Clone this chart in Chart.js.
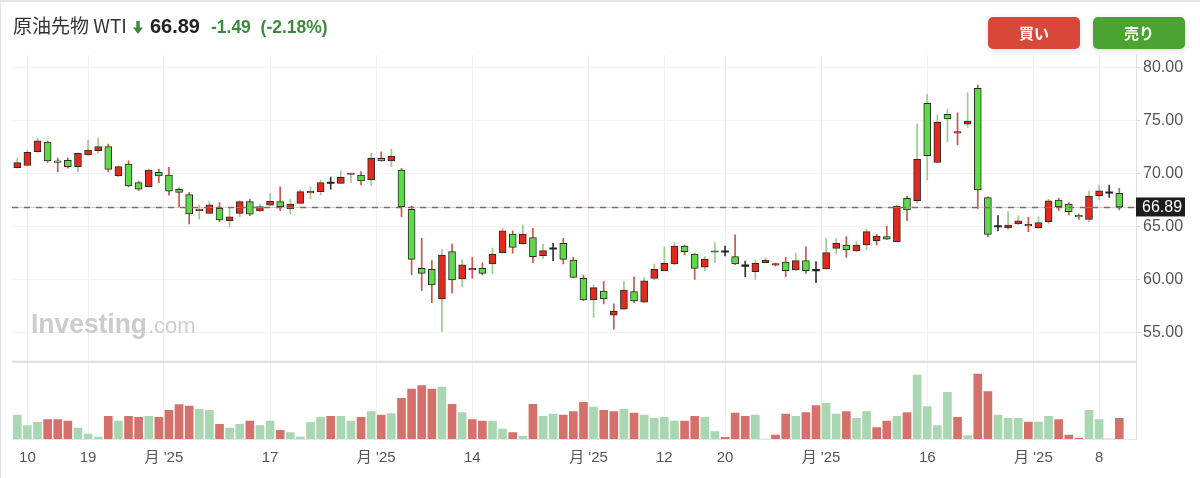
<!DOCTYPE html>
<html>
<head>
<meta charset="utf-8">
<script src="https://cdn.jsdelivr.net/npm/chart.js@4.4.1/dist/chart.umd.min.js"></script>
<style>
  html, body { margin: 0; padding: 0; background: #fff; }
  #wrap { position: relative; width: 1200px; height: 478px; overflow: hidden; font-family: 'Liberation Sans', Arial, sans-serif; }
  #chart { position: absolute; left: 0; top: 0; }
  #frame { position: absolute; left: 0; top: 0; width: 1200px; height: 478px; box-shadow: inset 1px 2px 0 #e4e4e4; pointer-events: none; }
  #head { position: absolute; left: 13px; top: 12px; white-space: nowrap; line-height: 26px; }
  #head .name { font-family: 'Noto Sans CJK JP', sans-serif; font-size: 19px; color: #333; }
  #head svg { display: inline-block; margin-left: 6px; vertical-align: -1px; }
  #head .last { font-size: 20px; font-weight: bold; color: #222; margin-left: 7px; }
  #head .chg { font-size: 17.5px; font-weight: bold; color: #3d8a3d; margin-left: 11px; }
  .btn { position: absolute; top: 17px; width: 92px; height: 32px; border-radius: 5px; color: #fff; font-family: 'Noto Sans CJK JP', sans-serif; font-weight: bold; font-size: 15px; line-height: 32px; text-align: center; box-shadow: 0 2px 6px rgba(0,0,0,0.12); }
  .buy { left: 988px; background: #d9463a; }
  .sell { left: 1093px; background: #4ba334; }
</style>
</head>
<body>
<div id="wrap">
  <canvas id="chart" width="1200" height="478"></canvas>
  <div id="head">
    <span class="name" id="name"></span><svg width="10" height="13" viewBox="0 0 10 13"><path d="M3.3 0h3.4v6.5H10L5 13 0 6.5h3.3z" fill="#3d8a3d"/></svg><span class="last" id="last"></span><span class="chg" id="chg"></span>
  </div>
  <div class="btn buy">買い</div>
  <div class="btn sell">売り</div>
  <div id="frame"></div>
</div>
<script>
const instrument = '原油先物 WTI'
const lastPrice = 66.89
const change = -1.49
const changePct = -2.18

const opens = [
  70.60, 70.80, 72.10, 73.00, 71.15, 71.30, 70.70, 71.80, 72.20, 72.58,
  69.81, 70.94, 69.18, 68.80, 70.16, 69.90, 68.56, 68.05, 66.55, 66.29,
  66.76, 65.60, 66.29, 67.39, 66.51, 67.05, 67.39, 66.70, 67.23, 68.22,
  68.33, 69.10, 69.12, 69.95, 69.90, 69.43, 71.48, 71.23, 70.38, 66.67,
  61.10, 61.00, 58.21, 62.67, 60.09, 60.95, 61.10, 61.51, 62.58, 64.34,
  63.40, 64.00, 62.30, 62.90, 63.46, 61.89, 60.16, 58.11, 58.96, 56.67,
  57.24, 58.90, 57.90, 60.16, 60.88, 61.51, 63.21, 62.45, 61.20, 62.62,
  62.62, 62.20, 61.28, 60.78, 61.63, 61.40, 61.70, 60.94, 61.82, 60.86,
  61.04, 62.99, 63.30, 62.74, 63.30, 63.71, 64.09, 63.62, 67.70, 67.48,
  76.67, 71.10, 75.63, 73.85, 74.69, 78.08, 67.77, 65.00, 64.93, 65.28,
  65.10, 64.93, 65.50, 67.55, 67.17, 66.00, 65.72, 67.92, 68.18, 68.18
]
const highs = [
  71.50, 72.20, 73.40, 73.10, 71.50, 71.50, 72.00, 73.20, 73.40, 72.83,
  70.80, 71.25, 69.34, 70.50, 70.44, 70.63, 68.70, 68.24, 67.10, 67.40,
  67.30, 66.76, 67.50, 67.64, 67.17, 68.17, 68.80, 67.60, 68.50, 68.80,
  69.43, 69.70, 70.31, 70.05, 70.22, 71.95, 72.10, 72.33, 70.54, 66.98,
  63.93, 61.82, 62.90, 63.40, 61.90, 62.14, 61.63, 63.00, 64.87, 64.65,
  65.19, 64.87, 63.40, 63.46, 63.93, 62.14, 60.47, 59.53, 59.84, 57.74,
  59.84, 60.30, 60.22, 61.51, 63.14, 63.52, 63.30, 62.50, 62.20, 63.52,
  63.21, 64.25, 61.79, 61.89, 62.10, 61.60, 62.14, 62.52, 63.14, 61.73,
  63.93, 63.90, 64.09, 63.62, 64.78, 64.30, 65.09, 67.05, 67.92, 74.72,
  77.55, 75.57, 76.10, 75.78, 77.67, 78.40, 67.85, 66.07, 66.45, 66.07,
  65.91, 65.97, 67.60, 67.70, 67.30, 66.23, 68.42, 68.96, 68.96, 68.65
]
const lows = [
  70.55, 70.75, 72.05, 71.10, 70.20, 70.55, 70.20, 71.75, 71.95, 70.20,
  69.75, 68.80, 68.42, 68.75, 69.18, 68.00, 66.90, 65.30, 65.75, 66.25,
  65.50, 65.03, 65.97, 66.07, 66.45, 67.00, 66.54, 66.23, 67.20, 67.64,
  68.02, 68.56, 69.10, 69.18, 68.96, 68.87, 71.20, 70.69, 65.97, 60.47,
  59.00, 57.86, 55.12, 58.75, 59.37, 60.16, 60.47, 60.57, 62.55, 62.52,
  63.37, 61.63, 62.04, 61.82, 61.51, 60.20, 58.05, 56.48, 57.74, 55.35,
  57.20, 57.86, 57.88, 60.00, 60.85, 61.42, 62.36, 60.06, 60.88, 61.63,
  62.26, 61.45, 60.31, 60.06, 61.60, 61.30, 60.31, 60.90, 60.63, 59.75,
  61.00, 62.45, 62.14, 62.70, 62.83, 63.30, 63.80, 63.60, 65.60, 67.24,
  69.43, 71.05, 73.05, 72.74, 74.40, 66.76, 64.09, 64.62, 64.72, 65.25,
  64.56, 64.90, 65.28, 66.54, 66.13, 65.72, 65.50, 67.55, 67.80, 66.60
]
const closes = [
  71.07, 72.05, 73.14, 71.23, 71.10, 70.70, 71.95, 72.26, 72.58, 70.44,
  70.69, 68.87, 68.58, 70.38, 69.81, 68.37, 68.27, 66.23, 66.65, 67.08,
  65.66, 65.97, 67.39, 66.20, 66.92, 67.42, 66.92, 67.17, 68.33, 68.36,
  69.18, 69.10, 69.69, 70.00, 69.34, 71.48, 71.23, 71.70, 66.92, 61.95,
  60.63, 59.53, 62.36, 60.00, 61.42, 61.05, 60.63, 62.45, 64.65, 63.08,
  64.34, 62.20, 62.77, 62.90, 61.95, 60.25, 58.11, 59.28, 58.21, 57.05,
  59.06, 58.02, 59.91, 61.01, 61.57, 63.21, 62.67, 61.10, 61.98, 62.70,
  62.62, 61.51, 61.28, 61.57, 61.89, 61.45, 60.88, 61.82, 60.88, 60.86,
  62.58, 63.46, 62.83, 63.30, 64.56, 64.15, 63.84, 66.98, 66.60, 71.39,
  71.73, 74.88, 75.19, 73.95, 75.00, 68.49, 64.31, 65.00, 65.19, 65.57,
  65.15, 65.41, 67.48, 66.92, 66.45, 65.95, 67.92, 68.42, 68.18, 66.89
]
// volume, thousands of contracts
const volumes = [
  240, 133, 167, 193, 193, 180, 110, 50, 20, 227,
  180, 227, 217, 227, 217, 287, 343, 330, 297, 287,
  147, 110, 147, 180, 133, 180, 87, 63, 20, 167,
  217, 227, 227, 180, 217, 273, 240, 253, 407, 500,
  533, 500, 520, 347, 263, 193, 180, 180, 100, 63,
  27, 347, 227, 250, 240, 273, 367, 320, 287, 273,
  300, 260, 240, 207, 217, 180, 180, 227, 217, 73,
  17, 260, 227, 240, 0, 40, 250, 227, 263, 333,
  357, 250, 273, 207, 273, 113, 180, 227, 263, 640,
  323, 133, 467, 217, 33, 650, 473, 240, 207, 207,
  170, 170, 227, 193, 40, 10, 287, 193, 0, 207
]

const priceTicks = [55, 60, 65, 70, 75, 80]
const xTickPos = [1, 7, 14.5, 25, 35.5, 45, 56.5, 64, 70, 79.5, 90, 100.5, 107]
const xTickLabels = ['10', '19', "月 '25", '17', "月 '25", '14', "月 '25", '12', '20', "月 '25", '16', "月 '25", '8']

document.getElementById('name').textContent = instrument
document.getElementById('last').textContent = lastPrice.toFixed(2)
document.getElementById('chg').textContent = change.toFixed(2) + ' \u00a0(' + changePct.toFixed(2) + '%)'

const FONT = "'Liberation Sans', Arial, 'Noto Sans CJK JP', sans-serif"
const idx = opens.map((_, i) => i)
const isDoji = i => opens[i] === closes[i]
const beatsPrev = i => i === 0 || closes[i] >= closes[i - 1]

const bodyColor = i => isDoji(i) ? '#222' : (closes[i] > opens[i] ? '#e2291c' : '#5cdb47')
const wickColor = i => isDoji(i) ? '#333' : (beatsPrev(i) ? '#97cd8e' : '#c8574c')
const volColor = i => beatsPrev(i) ? '#a9d7b2' : '#d5706b'

const overlay = {
  id: 'overlay',
  beforeDatasetsDraw(chart) {
    const { ctx, chartArea } = chart
    const y = chart.scales.y
    ctx.save()
    ctx.fillStyle = '#cccccc'
    ctx.textBaseline = 'alphabetic'
    ctx.font = 'bold 27px ' + FONT
    const w = ctx.measureText('Investing').width
    const bx = chartArea.left + 19, by = y.bottom - 29
    ctx.translate(bx, by)
    ctx.scale(116 / w, 1)
    ctx.fillText('Investing', 0, 0)
    ctx.setTransform(1, 0, 0, 1, 0, 0)
    ctx.font = '22px ' + FONT
    ctx.fillStyle = '#cfcfcf'
    ctx.fillText('.com', bx + 117, by)
    ctx.restore()
  },
  afterDatasetsDraw(chart) {
    const { ctx, chartArea } = chart
    const y = chart.scales.y
    const py = Math.round(y.getPixelForValue(lastPrice)) + 0.5
    ctx.save()
    ctx.strokeStyle = 'rgba(230,140,140,0.55)'
    ctx.lineWidth = 1
    ctx.beginPath()
    ctx.moveTo(chartArea.left, py)
    ctx.lineTo(chartArea.right, py)
    ctx.stroke()
    ctx.strokeStyle = '#9a6060'
    ctx.setLineDash([6, 6])
    ctx.lineWidth = 1.5
    ctx.beginPath()
    ctx.moveTo(chartArea.left, py)
    ctx.lineTo(chartArea.right, py)
    ctx.stroke()
    ctx.setLineDash([])
    // price / volume divider
    ctx.strokeStyle = '#dcdcdc'
    ctx.lineWidth = 2
    ctx.beginPath()
    ctx.moveTo(chartArea.left, y.bottom)
    ctx.lineTo(chartArea.right, y.bottom)
    ctx.stroke()
    ctx.restore()
  },
  afterDraw(chart) {
    const { ctx, chartArea } = chart
    const py = chart.scales.y.getPixelForValue(lastPrice)
    ctx.save()
    ctx.fillStyle = '#1c1c1c'
    ctx.fillRect(chartArea.right, py - 9.5, 49, 19)
    ctx.fillStyle = '#fff'
    ctx.font = '16px ' + FONT
    ctx.textBaseline = 'middle'
    ctx.fillText(lastPrice.toFixed(2), chartArea.right + 6, py + 1)
    ctx.restore()
  }
}

new Chart(document.getElementById('chart'), {
  type: 'bar',
  data: {
    datasets: [
      {
        label: 'body',
        data: idx.map(i => ({ x: i, y: [opens[i], closes[i]] })),
        yAxisID: 'y',
        grouped: false,
        barThickness: 7,
        minBarLength: 1.5,
        backgroundColor: c => bodyColor(c.dataIndex),
        borderColor: '#2b2b2b',
        borderWidth: c => isDoji(c.dataIndex) ? 0 : 1,
        borderSkipped: false,
        order: 1
      },
      {
        label: 'wick',
        data: idx.map(i => ({ x: i, y: [lows[i], highs[i]] })),
        yAxisID: 'y',
        grouped: false,
        barThickness: 1,
        backgroundColor: c => wickColor(c.dataIndex),
        order: 2
      },
      {
        label: 'volume',
        data: idx.map(i => ({ x: i, y: volumes[i] })),
        yAxisID: 'yv',
        grouped: false,
        barThickness: 8,
        backgroundColor: c => volColor(c.dataIndex),
        order: 3
      }
    ]
  },
  options: {
    responsive: false,
    animation: false,
    layout: { padding: { left: 12, top: 55, right: 0, bottom: 0 } },
    plugins: { legend: { display: false }, tooltip: { enabled: false } },
    scales: {
      x: {
        type: 'linear',
        offset: false,
        min: -0.524,
        max: 110.65,
        afterBuildTicks: s => { s.ticks = xTickPos.map(v => ({ value: v })) },
        afterFit: s => { s.height = 39 },
        ticks: {
          callback: (v, i) => xTickLabels[i],
          color: '#555',
          font: { size: 15, family: FONT },
          padding: 10,
          maxRotation: 0,
          autoSkip: false
        },
        grid: { color: '#f1f1f4', drawTicks: false, offset: false },
        border: { color: '#e4e4ea' }
      },
      y: {
        position: 'right',
        stack: 'panes',
        stackWeight: 306.7,
        min: 52.292,
        max: 81.226,
        afterBuildTicks: s => { s.ticks = priceTicks.map(v => ({ value: v })) },
        afterFit: s => { s.width = 64 },
        ticks: {
          callback: v => v.toFixed(2),
          color: '#555',
          font: { size: 16, family: FONT },
          padding: 3
        },
        grid: { color: '#f3f3f3', tickLength: 4, tickColor: '#d8d8d8' },
        border: { color: '#e2e2e8' }
      },
      yv: {
        position: 'right',
        stack: 'panes',
        stackWeight: 77.3,
        min: 0,
        max: 773,
        afterFit: s => { s.width = 64 },
        ticks: { display: false },
        grid: { display: false },
        border: { color: '#e2e2e8' }
      }
    }
  },
  plugins: [overlay]
})
</script>
</body>
</html>
